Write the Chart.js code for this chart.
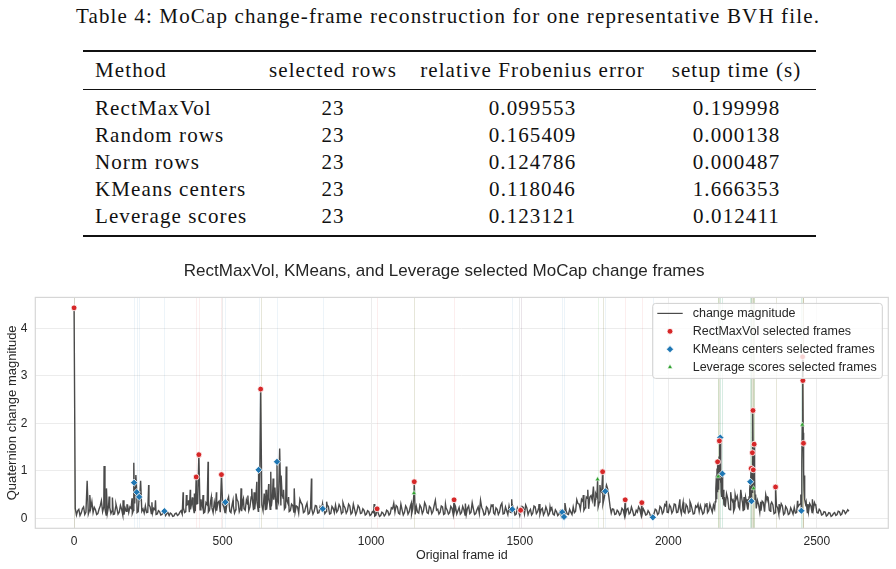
<!DOCTYPE html>
<html>
<head>
<meta charset="utf-8">
<script src="https://cdn.jsdelivr.net/npm/chart.js@4.4.1/dist/chart.umd.min.js"></script>
<style>
  body { margin: 0; background: #fff; width: 896px; height: 569px; position: relative; overflow: hidden;
         font-family: "Liberation Serif", "DejaVu Serif", serif; color: #111; }
  .cap { position: absolute; left: 0; width: 896px; top: 5.5px; text-align: center; font-size: 21px; line-height: 21px; letter-spacing: 1.14px; }
  .rule { position: absolute; left: 83px; width: 733px; background: #111; }
  .cell { position: absolute; font-size: 21px; line-height: 21px; white-space: nowrap; letter-spacing: 1.1px; }
  .cell.c { transform: translateX(-50%); }
  #wrap { position: absolute; left: 0; top: 250px; width: 896px; height: 319px; }
</style>
</head>
<body>
<div class="cap" id="caption"></div>
<div id="table"></div>
<div id="wrap"><canvas id="chart" width="896" height="319"></canvas></div>
<script>
// --- table ---
const caption = 'Table 4: MoCap change-frame reconstruction for one representative BVH file.';
const tableHeader = ['Method', 'selected rows', 'relative Frobenius error', 'setup time (s)'];
const methods = ['RectMaxVol', 'Random rows', 'Norm rows', 'KMeans centers', 'Leverage scores'];
const selectedRows = [23, 23, 23, 23, 23];
const frobError = ['0.099553', '0.165409', '0.124786', '0.118046', '0.123121'];
const setupTime = ['0.199998', '0.000138', '0.000487', '1.666353', '0.012411'];

// --- chart ---
const xTicks = [0, 500, 1000, 1500, 2000, 2500];
const yTicks = [0, 1, 2, 3, 4];
const frameStep = 8;
// change magnitude at frames 0, 8, 16 ... 2608
const baseValues = [
  0.10, 0.07, 0.19, 0.11, 0.24, 0.13, 0.09, 0.21, 0.12, 0.18,
  0.10, 0.26, 0.14, 0.20, 0.11, 0.23, 0.16, 0.09, 0.22, 0.13,
  0.19, 0.08, 0.15, 0.12, 0.21, 0.17, 0.28, 0.14, 0.33, 0.20,
  0.26, 0.13, 0.24, 0.11, 0.18, 0.09, 0.14, 0.08, 0.12, 0.10,
  0.06, 0.09, 0.05, 0.11, 0.08, 0.16, 0.22, 0.14, 0.30, 0.19,
  0.27, 0.15, 0.31, 0.18, 0.25, 0.13, 0.29, 0.17, 0.22, 0.34,
  0.16, 0.28, 0.14, 0.24, 0.19, 0.31, 0.12, 0.26, 0.18, 0.35,
  0.21, 0.38, 0.17, 0.30, 0.24, 0.41, 0.19, 0.33, 0.22, 0.28,
  0.36, 0.18, 0.44, 0.25, 0.39, 0.20, 0.34, 0.27, 0.42, 0.23,
  0.31, 0.16, 0.27, 0.13, 0.24, 0.19, 0.29, 0.14, 0.22, 0.11,
  0.20, 0.15, 0.26, 0.12, 0.18, 0.23, 0.14, 0.25, 0.10, 0.21,
  0.28, 0.17, 0.24, 0.13, 0.22, 0.16, 0.26, 0.12, 0.19, 0.15,
  0.23, 0.11, 0.17, 0.09, 0.14, 0.08, 0.12, 0.07, 0.10, 0.06,
  0.11, 0.08, 0.15, 0.10, 0.20, 0.13, 0.24, 0.09, 0.18, 0.12,
  0.21, 0.14, 0.09, 0.19, 0.25, 0.11, 0.23, 0.16, 0.27, 0.10,
  0.22, 0.15, 0.08, 0.19, 0.13, 0.24, 0.10, 0.17, 0.12, 0.21,
  0.14, 0.09, 0.23, 0.12, 0.18, 0.08, 0.26, 0.13, 0.20, 0.10,
  0.24, 0.12, 0.17, 0.09, 0.21, 0.14, 0.25, 0.08, 0.19, 0.13,
  0.22, 0.10, 0.16, 0.26, 0.12, 0.20, 0.09, 0.15, 0.11, 0.23,
  0.13, 0.08, 0.19, 0.11, 0.24, 0.14, 0.09, 0.21, 0.12, 0.17,
  0.10, 0.22, 0.07, 0.14, 0.09, 0.05, 0.12, 0.16, 0.08, 0.13,
  0.24, 0.15, 0.31, 0.19, 0.36, 0.22, 0.42, 0.28, 0.38, 0.25,
  0.46, 0.34, 0.55, 0.42, 0.62, 0.45, 0.11, 0.19, 0.09, 0.14,
  0.10, 0.18, 0.08, 0.21, 0.12, 0.16, 0.07, 0.13, 0.19, 0.09,
  0.15, 0.08, 0.12, 0.06, 0.10, 0.17, 0.11, 0.22, 0.14, 0.26,
  0.12, 0.24, 0.16, 0.29, 0.13, 0.21, 0.27, 0.11, 0.25, 0.15,
  0.20, 0.10, 0.23, 0.14, 0.18, 0.12, 0.25, 0.16, 0.21, 0.28,
  0.45, 0.60, 0.35, 0.50, 0.24, 0.41, 0.18, 0.36, 0.22, 0.47,
  0.20, 0.39, 0.17, 0.31, 0.25, 0.43, 0.40, 0.21, 0.29, 0.16,
  0.33, 0.20, 0.44, 0.15, 0.28, 0.12, 0.22, 0.18, 0.26, 0.11,
  0.19, 0.10, 0.16, 0.23, 0.12, 0.28, 0.17, 0.21, 0.35, 0.14,
  0.26, 0.18, 0.30, 0.11, 0.16, 0.08, 0.13, 0.07, 0.11, 0.06,
  0.12, 0.08, 0.14, 0.09, 0.16, 0.13, 0.15
];
// change magnitude at frames 4, 12, 20 ... 2604
const midValues = [
  0.21, 0.16, 0.06, 0.20, 0.08, 0.22, 0.17, 0.07, 0.23, 0.08,
  0.19, 0.09, 0.24, 0.07, 0.25, 0.10, 0.08, 0.24, 0.09, 0.27,
  0.07, 0.22, 0.28, 0.24, 0.10, 0.31, 0.12, 0.36, 0.15, 0.11,
  0.12, 0.29, 0.10, 0.21, 0.08, 0.16, 0.07, 0.13, 0.06, 0.12,
  0.11, 0.04, 0.10, 0.06, 0.13, 0.09, 0.12, 0.28, 0.13, 0.33,
  0.12, 0.30, 0.14, 0.36, 0.11, 0.33, 0.13, 0.38, 0.12, 0.20,
  0.33, 0.13, 0.30, 0.12, 0.37, 0.15, 0.29, 0.11, 0.40, 0.14,
  0.15, 0.20, 0.39, 0.16, 0.45, 0.17, 0.44, 0.15, 0.37, 0.16,
  0.17, 0.40, 0.19, 0.48, 0.18, 0.43, 0.16, 0.50, 0.19, 0.38,
  0.14, 0.30, 0.12, 0.26, 0.11, 0.33, 0.12, 0.25, 0.09, 0.24,
  0.09, 0.27, 0.11, 0.24, 0.30, 0.10, 0.28, 0.09, 0.25, 0.12,
  0.13, 0.29, 0.10, 0.27, 0.11, 0.30, 0.09, 0.24, 0.08, 0.27,
  0.10, 0.20, 0.07, 0.16, 0.06, 0.14, 0.05, 0.12, 0.04, 0.13,
  0.05, 0.17, 0.07, 0.22, 0.09, 0.27, 0.11, 0.23, 0.07, 0.26,
  0.09, 0.26, 0.20, 0.08, 0.13, 0.28, 0.10, 0.30, 0.12, 0.25,
  0.10, 0.27, 0.17, 0.09, 0.26, 0.08, 0.22, 0.09, 0.25, 0.08,
  0.24, 0.16, 0.09, 0.25, 0.07, 0.21, 0.10, 0.27, 0.08, 0.18,
  0.10, 0.23, 0.07, 0.24, 0.09, 0.28, 0.11, 0.22, 0.08, 0.27,
  0.09, 0.24, 0.08, 0.13, 0.27, 0.07, 0.22, 0.06, 0.25, 0.09,
  0.22, 0.15, 0.07, 0.26, 0.10, 0.23, 0.18, 0.07, 0.24, 0.06,
  0.17, 0.09, 0.18, 0.06, 0.15, 0.10, 0.06, 0.09, 0.19, 0.08,
  0.12, 0.33, 0.14, 0.40, 0.17, 0.45, 0.20, 0.48, 0.19, 0.52,
  0.24, 0.58, 0.30, 0.66, 0.35, 0.25, 0.20, 0.08, 0.17, 0.07,
  0.21, 0.07, 0.19, 0.09, 0.24, 0.06, 0.17, 0.24, 0.08, 0.20,
  0.07, 0.16, 0.05, 0.11, 0.19, 0.08, 0.25, 0.10, 0.29, 0.13,
  0.28, 0.11, 0.31, 0.12, 0.27, 0.10, 0.14, 0.29, 0.12, 0.30,
  0.09, 0.26, 0.11, 0.27, 0.09, 0.29, 0.12, 0.30, 0.13, 0.20,
  1.05, 1.63, 0.45, 0.28, 0.52, 0.20, 0.44, 0.15, 0.40, 0.25,
  0.60, 0.15, 0.45, 0.18, 0.77, 0.70, 0.40, 0.38, 0.13, 0.36,
  0.14, 0.38, 0.17, 0.34, 0.10, 0.27, 0.09, 0.31, 0.08, 0.24,
  0.08, 0.22, 0.09, 0.11, 0.24, 0.30, 3.40, 0.40, 0.12, 0.31,
  0.12, 0.33, 0.12, 0.19, 0.07, 0.14, 0.05, 0.12, 0.04, 0.10,
  0.06, 0.15, 0.07, 0.17, 0.10, 0.18
];
// spikes and frames between the samples: [frame, magnitude]
const peaks = [
  [0, 4.43], [44, 0.79], [53, 0.49], [60, 0.35], [92, 0.37], [101, 1.10], [109, 0.63], [118, 0.46],
  [129, 0.44], [141, 0.30], [165, 0.38], [178, 0.28], [195, 0.42], [201, 1.17], [202, 0.75], [208, 0.91],
  [211, 0.55], [219, 0.45], [224, 0.79], [251, 0.70], [262, 0.34], [274, 0.38], [304, 0.15],
  [367, 0.55], [378, 0.49], [385, 0.38], [391, 0.60], [398, 0.44], [405, 0.52], [411, 0.87], [420, 1.34],
  [427, 0.40], [434, 0.49], [451, 1.19], [462, 0.45], [479, 0.55], [488, 0.36], [496, 0.92], [509, 0.34],
  [520, 0.45], [535, 0.38], [545, 0.52], [562, 0.63], [570, 0.42],
  [585, 0.48], [598, 0.62], [606, 0.55], [615, 0.77], [621, 1.02], [628, 2.72], [640, 0.52], [646, 0.60],
  [655, 0.72], [662, 0.98], [670, 0.84], [676, 0.65], [683, 1.19], [692, 1.47], [697, 0.90], [705, 0.60],
  [714, 1.09], [722, 0.45], [741, 0.63], [760, 0.40], [784, 0.32], [799, 0.84],
  [837, 0.20], [850, 0.35], [905, 0.33], [940, 0.30], [1010, 0.30], [1020, 0.20], [1076, 0.32], [1100, 0.30],
  [1135, 0.32], [1144, 0.53], [1145, 0.77], [1180, 0.33], [1216, 0.38], [1250, 0.30], [1279, 0.39],
  [1317, 0.31], [1340, 0.33], [1368, 0.38], [1410, 0.30], [1440, 0.32], [1473, 0.40], [1475, 0.19],
  [1503, 0.17], [1520, 0.28], [1565, 0.30],
  [1602, 0.24], [1643, 0.13], [1649, 0.03], [1652, 0.32], [1692, 0.39], [1700, 0.30], [1714, 0.49],
  [1722, 0.35], [1729, 0.60], [1736, 0.45], [1748, 0.67], [1755, 0.40], [1762, 0.82], [1770, 0.70],
  [1779, 0.98], [1788, 0.57], [1792, 0.70], [1796, 0.62],
  [1855, 0.39], [1911, 0.33], [1948, 0.02], [1994, 0.37], [2020, 0.30], [2039, 0.40], [2050, 0.34],
  [2073, 0.35], [2100, 0.30], [2130, 0.32],
  [2158, 0.35], [2160, 0.62], [2162, 0.90], [2163, 0.40], [2164, 1.05], [2165, 0.55], [2166, 1.19],
  [2167, 0.70], [2168, 0.88], [2169, 1.10], [2170, 0.60], [2171, 1.30], [2172, 1.63], [2173, 0.80],
  [2174, 1.20], [2175, 1.70], [2176, 0.75], [2177, 1.00], [2178, 0.55], [2179, 0.90], [2180, 0.45],
  [2181, 0.80], [2182, 0.94], [2183, 0.40], [2185, 0.60], [2187, 0.30], [2189, 0.45],
  [2200, 0.42], [2210, 0.55], [2218, 0.38], [2225, 0.50], [2235, 0.35], [2244, 0.60], [2250, 0.32],
  [2255, 0.45], [2265, 0.40],
  [2270, 0.30], [2272, 0.45], [2274, 0.60], [2276, 0.77], [2277, 0.40], [2278, 0.85], [2279, 1.05],
  [2280, 0.36], [2281, 0.90], [2282, 0.55], [2283, 1.38], [2284, 0.70], [2285, 2.27], [2286, 1.02],
  [2287, 0.63], [2288, 1.10], [2289, 1.56], [2290, 0.60], [2291, 0.85], [2292, 0.40], [2294, 0.50],
  [2311, 0.35], [2328, 0.50], [2334, 0.45], [2345, 0.30], [2361, 0.66], [2373, 0.30], [2395, 0.25],
  [2435, 0.37],
  [2444, 0.30], [2446, 0.50], [2448, 0.16], [2449, 0.70], [2450, 1.20], [2451, 1.97], [2452, 3.40],
  [2453, 2.90], [2454, 1.80], [2455, 1.58], [2456, 1.00], [2457, 0.60], [2458, 0.90], [2460, 0.40],
  [2462, 0.30], [2470, 0.30], [2485, 0.40], [2495, 0.28]
];
const rectFrames = [0, 411, 420, 496, 628, 1020, 1145, 1279, 1503, 1779, 1855, 1911,
  2166, 2172, 2279, 2283, 2285, 2286, 2289, 2361, 2452, 2453, 2455];
const kmeansFrames = [202, 211, 219, 304, 509, 621, 683, 837, 1475, 1503, 1643, 1649, 1788, 1948,
  2175, 2182, 2276, 2280, 2448];
const leverageFrames = [0, 628, 1144, 1762, 1779, 2166, 2168, 2172, 2175, 2182, 2276, 2279, 2280,
  2283, 2285, 2286, 2287, 2289, 2361, 2448, 2451, 2452, 2453];

// build table
document.getElementById('caption').textContent = caption;
const tbl = document.getElementById('table');
const colX = [95, 333, 532.5, 736.5];
const headerY = 70.7;
const rowY = [108.3, 135.2, 162.1, 189.1, 216];
function addCell(text, col, cy) {
  const d = document.createElement('div');
  d.className = 'cell' + (col > 0 ? ' c' : '');
  d.style.left = colX[col] + 'px';
  d.style.top = (cy - 10.5) + 'px';
  d.textContent = text;
  tbl.appendChild(d);
}
function addRule(y, h) {
  const d = document.createElement('div');
  d.className = 'rule';
  d.style.top = y + 'px';
  d.style.height = h + 'px';
  tbl.appendChild(d);
}
addRule(49.5, 2); addRule(88.8, 1.2); addRule(235, 2);
tableHeader.forEach((h, i) => addCell(h, i, headerY));
methods.forEach((m, r) => {
  addCell(m, 0, rowY[r]);
  addCell(String(selectedRows[r]), 1, rowY[r]);
  addCell(frobError[r], 2, rowY[r]);
  addCell(setupTime[r], 3, rowY[r]);
});

// build series
const magnitude = new Map();
baseValues.forEach((v, i) => magnitude.set(i * frameStep, v));
midValues.forEach((v, i) => magnitude.set(i * frameStep + frameStep / 2, v));
peaks.forEach(([f, v]) => magnitude.set(f, v));
const lineData = [...magnitude.keys()].sort((a, b) => a - b).map(f => ({ x: f, y: magnitude.get(f) }));
const pick = frames => frames.map(f => ({ x: f, y: magnitude.get(f) }));

const inkColor = '#262626';
const lineColor = '#4a4a4a';
const red = '#d62728', blue = '#1f77b4', green = '#2ca02c';

Chart.defaults.font.family = "'Liberation Sans', Arial, sans-serif";
Chart.defaults.color = inkColor;

// faint vertical lines at selected frames
const frameLines = {
  id: 'frameLines',
  beforeDatasetsDraw(chart) {
    const { ctx, chartArea: a, scales: { x } } = chart;
    ctx.save();
    ctx.lineWidth = 1;
    [[rectFrames, 'rgba(214,39,40,0.08)'], [kmeansFrames, 'rgba(31,119,180,0.08)'], [leverageFrames, 'rgba(44,160,44,0.11)']]
      .forEach(([frames, c]) => {
        ctx.strokeStyle = c;
        frames.forEach(f => {
          const px = Math.round(x.getPixelForValue(f)) + 0.5;
          ctx.beginPath(); ctx.moveTo(px, a.top); ctx.lineTo(px, a.bottom); ctx.stroke();
        });
      });
    ctx.restore();
  }
};

// frame border + legend inside the plot
const boxLegend = {
  id: 'boxLegend',
  afterDraw(chart) {
    const { ctx, chartArea: a } = chart;
    ctx.save();
    ctx.setTransform(1, 0, 0, 1, 0, 0);
    ctx.strokeStyle = '#d6d6d6';
    ctx.lineWidth = 1.2;
    ctx.strokeRect(a.left, a.top, a.right - a.left, a.bottom - a.top);

    const w = 229.6, h = 75;
    const left = a.right - 6 - w, top = a.top + 6;
    ctx.beginPath();
    ctx.roundRect(left, top, w, h, 3);
    ctx.fillStyle = 'rgba(255,255,255,0.8)';
    ctx.fill();
    ctx.strokeStyle = '#d0d0d0';
    ctx.lineWidth = 1;
    ctx.stroke();

    ctx.font = "12.5px 'Liberation Sans', Arial, sans-serif";
    ctx.direction = 'ltr';
    ctx.textBaseline = 'middle';
    chart.data.datasets.forEach((ds, i) => {
      const y = top + 10 + i * 17.9;
      if (ds.type === 'line') {
        ctx.strokeStyle = ds.borderColor;
        ctx.lineWidth = 1.2;
        ctx.beginPath(); ctx.moveTo(left + 4.6, y); ctx.lineTo(left + 30, y); ctx.stroke();
      } else {
        ctx.fillStyle = ds.backgroundColor;
        ctx.strokeStyle = ds.borderColor;
        ctx.lineWidth = ds.borderWidth;
        Chart.helpers.drawPoint(ctx, { pointStyle: ds.pointStyle, radius: ds.pointRadius, rotation: 0, borderWidth: ds.borderWidth }, left + 17.3, y);
      }
      ctx.fillStyle = inkColor;
      ctx.textAlign = 'left';
      ctx.fillText(ds.label, left + 40, y);
    });
    ctx.restore();
  }
};

new Chart(document.getElementById('chart'), {
  data: {
    datasets: [
      { type: 'line', label: 'change magnitude', data: lineData, borderColor: lineColor, borderWidth: 1.4,
        pointRadius: 0, tension: 0, order: 4 },
      { type: 'scatter', label: 'RectMaxVol selected frames', data: pick(rectFrames), pointStyle: 'circle',
        pointRadius: 2.9, backgroundColor: red, borderColor: '#fff', borderWidth: 0.8, order: 1 },
      { type: 'scatter', label: 'KMeans centers selected frames', data: pick(kmeansFrames), pointStyle: 'rectRot',
        pointRadius: 3.6, backgroundColor: blue, borderColor: '#fff', borderWidth: 0.8, order: 2 },
      { type: 'scatter', label: 'Leverage scores selected frames', data: pick(leverageFrames), pointStyle: 'triangle',
        pointRadius: 2.8, backgroundColor: green, borderColor: '#fff', borderWidth: 0.5, order: 3 }
    ]
  },
  options: {
    responsive: false,
    animation: false,
    devicePixelRatio: 1,
    layout: { padding: { left: 0, right: 7.7, top: 0, bottom: 0 } },
    plugins: {
      legend: { display: false },
      tooltip: { enabled: false },
      title: { display: true, text: 'RectMaxVol, KMeans, and Leverage selected MoCap change frames',
        color: inkColor, font: { size: 17, weight: 'normal' }, padding: { top: 11, bottom: 16 } }
    },
    scales: {
      x: {
        type: 'linear', min: -130.5, max: 2740.5,
        afterBuildTicks: s => { s.ticks = xTicks.map(v => ({ value: v })); },
        afterFit: s => { s.height = 40.7; },
        grid: { color: '#ececec', drawTicks: false },
        border: { display: false },
        ticks: { padding: 6, font: { size: 12 }, callback: v => String(v) },
        title: { display: true, text: 'Original frame id', font: { size: 12.5 }, padding: { top: 0, bottom: 6 } }
      },
      y: {
        type: 'linear', min: -0.21, max: 4.65,
        afterBuildTicks: s => { s.ticks = yTicks.map(v => ({ value: v })); },
        afterFit: s => { s.width = 35.3; },
        grid: { color: '#ececec', drawTicks: false },
        border: { display: false },
        ticks: { padding: 8, font: { size: 12 }, callback: v => String(v) },
        title: { display: true, text: 'Quaternion change magnitude', font: { size: 13 }, padding: { top: 4.5, bottom: 0 } }
      }
    }
  },
  plugins: [frameLines, boxLegend]
});
</script>
</body>
</html>
